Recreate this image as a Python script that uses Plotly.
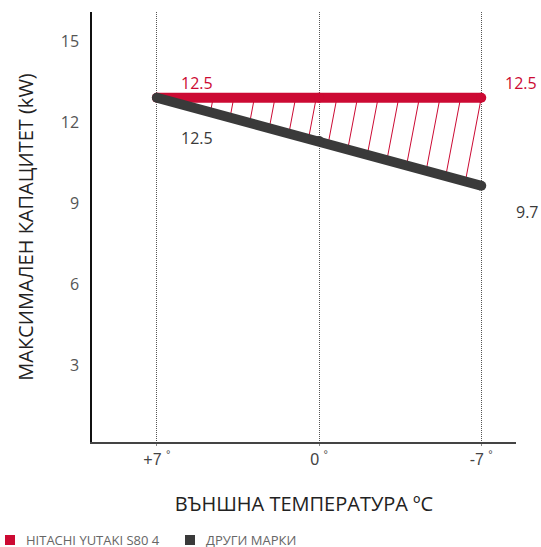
import numpy as np
import plotly.graph_objects as go

# ---- data ----
temps = [7, 0, -7]
temp_labels = ["+7 <sup>°</sup>", "0 <sup>°</sup>", "-7 <sup>°</sup>"]
hitachi = [12.9, 12.9, 12.9]
others = [12.9, 11.3, 9.65]
hitachi_labels = ["12.5", "12.5"]
others_labels = ["12.5", "9.7"]
y_ticks = [3, 6, 9, 12, 15]
series_names = ["HITACHI YUTAKI S80 4", "ДРУГИ МАРКИ"]

RED = "#cc0a33"
DARK = "#3a3a3a"

fig = go.Figure()

# hatching between the two lines
step = 0.89
slant = 0.222  # deg per kW of drop
tops = np.arange(temps[-1], temps[0] - 2.3, step)
t_asc = np.array(temps[::-1], dtype=float)
hx, hy = [], []
for T in tops:
    top_v = np.interp(T, t_asc, np.array(hitachi[::-1]))
    dv = 0.0
    for _ in range(50):
        t = T + slant * dv
        dv = top_v - np.interp(t, t_asc, np.array(others[::-1]))
    if dv <= 0.05:
        continue
    hx += [T, T + slant * dv, None]
    hy += [top_v, top_v - dv, None]
fig.add_trace(go.Scatter(x=hx, y=hy, mode="lines",
                         line=dict(color=RED, width=1), hoverinfo="skip",
                         showlegend=False))

fig.add_trace(go.Scatter(x=temps, y=hitachi, mode="lines+markers",
                         line=dict(color=RED, width=10),
                         marker=dict(color=RED, size=10, line=dict(width=0)),
                         name=series_names[0], showlegend=False, cliponaxis=False))
fig.add_trace(go.Scatter(x=temps, y=others, mode="lines+markers",
                         line=dict(color=DARK, width=10),
                         marker=dict(color=DARK, size=10, line=dict(width=0)),
                         name=series_names[1], showlegend=False, cliponaxis=False))

lab_font = dict(family="Open Sans, sans-serif", size=16)
ann = [
    dict(x=temps[0], y=hitachi[0], text=hitachi_labels[0], xshift=40, yshift=15,
         font=dict(color=RED, **lab_font)),
    dict(x=temps[-1], y=hitachi[-1], text=hitachi_labels[1], xshift=40, yshift=15,
         font=dict(color=RED, **lab_font)),
    dict(x=temps[0], y=others[0], text=others_labels[0], xshift=40, yshift=-40,
         font=dict(color=DARK, **lab_font)),
    dict(x=temps[-1], y=others[-1], text=others_labels[1], xshift=46, yshift=-26,
         font=dict(color=DARK, **lab_font)),
]
annotations = [dict(a, xref="x", yref="y", showarrow=False) for a in ann]

W, H = 541, 547
ml, mr, mt, mb = 92, 25, 12, 105
pw, ph = W - ml - mr, H - mt - mb
def px2x(px): return (px - ml) / pw
def py2y(py): return (H - mb - py) / ph

leg = [(10, 24, RED, series_names[0]), (190, 204, DARK, series_names[1])]
shapes = []
for cx, tx, col, name in leg:
    shapes.append(dict(type="rect", xref="paper", yref="paper",
                       xsizemode="pixel", ysizemode="pixel",
                       xanchor=px2x(cx), yanchor=py2y(540),
                       x0=-5, x1=5, y0=-5, y1=5,
                       fillcolor=col, line=dict(width=0)))
    annotations.append(dict(xref="paper", yref="paper", x=px2x(tx), y=py2y(539.5),
                            xanchor="left", yanchor="middle", showarrow=False,
                            text=name,
                            font=dict(family="Open Sans, sans-serif", size=13, color="#666")))

fig.update_layout(
    width=W, height=H,
    margin=dict(l=ml, r=mr, t=mt, b=mb),
    plot_bgcolor="white", paper_bgcolor="white",
    showlegend=False,
    annotations=annotations, shapes=shapes,
    xaxis=dict(range=[9.8, -8.5], tickmode="array", tickvals=temps, ticktext=temp_labels,
               showgrid=True, gridcolor="#555", griddash="1px,1px", gridwidth=1,
               zeroline=False, showline=True, linecolor="#444", linewidth=2,
               ticks="outside", ticklen=2, tickcolor="#888",
               tickfont=dict(family="Liberation Sans, Arial, sans-serif", size=16, color="#444"),
               title=dict(text="ВЪНШНА ТЕМПЕРАТУРА ºC", standoff=30,
                          font=dict(family="Open Sans, sans-serif", size=20, color="#222"))),
    yaxis=dict(range=[0.18, 16.07], tickmode="array", tickvals=y_ticks,
               showgrid=False, zeroline=False, showline=True, linecolor="#111", linewidth=1.5,
               ticks="outside", ticklen=8, tickcolor="rgba(0,0,0,0)",
               tickfont=dict(family="Open Sans, sans-serif", size=16, color="#555"),
               title=dict(text="МАКСИМАЛЕН КАПАЦИТЕТ (kW)", standoff=22,
                          font=dict(family="Open Sans, sans-serif", size=20, color="#222"))),
)

fig.write_html("out.html", config={"displayModeBar": False},
               post_script="document.body.style.margin='0';")
